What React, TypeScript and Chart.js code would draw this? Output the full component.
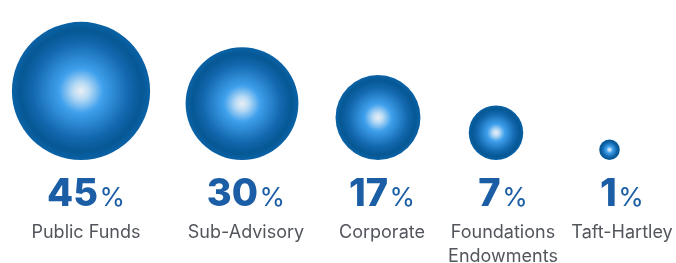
import React, { useEffect, useRef } from "react";
import { Chart, registerables } from "chart.js";

Chart.register(...registerables);

// ---- data ----
const categories: string[][] = [
  ["Public Funds"],
  ["Sub-Advisory"],
  ["Corporate"],
  ["Foundations", "Endowments"],
  ["Taft-Hartley"],
];
const shares: number[] = [45, 30, 17, 7, 1];

// ---- layout ----
const W = 676;
const H = 263;
const bubbleColumnX = [81, 242, 378, 496, 609.5];
const labelColumnX = [86, 246, 382, 503, 622];
const BASELINE = 160;
const RADIUS_SCALE = 10.3;
const NUMBER_BASELINE = 206;
const LABEL_BASELINE = 238;
const LABEL_LINE = 23.5;

const radiusOf = (v: number) => RADIUS_SCALE * Math.sqrt(v);

const labelPlugin = {
  id: "bubbleLabels",
  afterDatasetsDraw(chart: any) {
    const { ctx } = chart;
    const xs = chart.scales.x;
    ctx.save();
    shares.forEach((v, i) => {
      const cx = xs.getPixelForValue(labelColumnX[i]);
      const num = String(v);
      ctx.font = "800 38px Inter";
      const nw = ctx.measureText(num).width;
      ctx.font = "400 26px Inter";
      const pw = ctx.measureText("%").width;
      const gap = 1.5;
      const total = nw + gap + pw;
      const left = cx - total / 2;
      ctx.textBaseline = "alphabetic";
      ctx.textAlign = "left";
      ctx.fillStyle = "#1c5ea5";
      ctx.font = "800 38px Inter";
      ctx.fillText(num, left, NUMBER_BASELINE);
      ctx.font = "400 26px Inter";
      ctx.fillText("%", left + nw + gap, NUMBER_BASELINE);
      ctx.textAlign = "center";
      ctx.fillStyle = "#52565c";
      ctx.font = "400 18px Inter";
      categories[i].forEach((line, j) => {
        ctx.fillText(line, cx, LABEL_BASELINE + j * LABEL_LINE);
      });
    });
    ctx.restore();
  },
};

export default function App() {
  const ref = useRef<HTMLCanvasElement | null>(null);
  useEffect(() => {
    if (!ref.current) return;
    const chart = new Chart(ref.current, {
      type: "bubble",
      data: {
        datasets: [
          {
            data: shares.map((v, i) => ({
              x: bubbleColumnX[i],
              y: BASELINE - radiusOf(v),
              r: radiusOf(v),
            })),
            clip: false,
            borderWidth: 0,
            hoverBorderWidth: 0,
            backgroundColor: (c: any) => {
              const chart = c.chart;
              const raw = c.raw;
              if (!raw || !chart.scales || !chart.scales.x || !chart.scales.y) return "#1268b0";
              const cx = chart.scales.x.getPixelForValue(raw.x);
              const cy = chart.scales.y.getPixelForValue(raw.y);
              const r = raw.r;
              if (!isFinite(cx) || !isFinite(cy) || !isFinite(r)) return "#1268b0";
              const g = chart.ctx.createRadialGradient(cx, cy, 0, cx, cy, r);
              g.addColorStop(0, "#e9eef3");
              g.addColorStop(0.12, "#b9dbf5");
              g.addColorStop(0.32, "#3fa0ec");
              g.addColorStop(0.7, "#1267ad");
              g.addColorStop(0.88, "#065894");
              g.addColorStop(1, "#0a62a6");
              return g;
            },
          },
        ],
      },
      options: {
        animation: false,
        responsive: false,
        maintainAspectRatio: false,
        events: [],
        layout: { padding: 0, autoPadding: false },
        plugins: { legend: { display: false }, tooltip: { enabled: false } },
        scales: {
          x: { type: "linear", min: 0, max: W, display: false },
          y: { type: "linear", min: 0, max: H, reverse: true, display: false },
        },
      },
      plugins: [labelPlugin],
    });
    return () => chart.destroy();
  }, []);
  return (
    <div style={{ position: "fixed", left: 0, top: 0, width: W, height: H, background: "#fff" }}>
      <canvas ref={ref} width={W} height={H} style={{ width: W, height: H, display: "block" }} />
    </div>
  );
}
